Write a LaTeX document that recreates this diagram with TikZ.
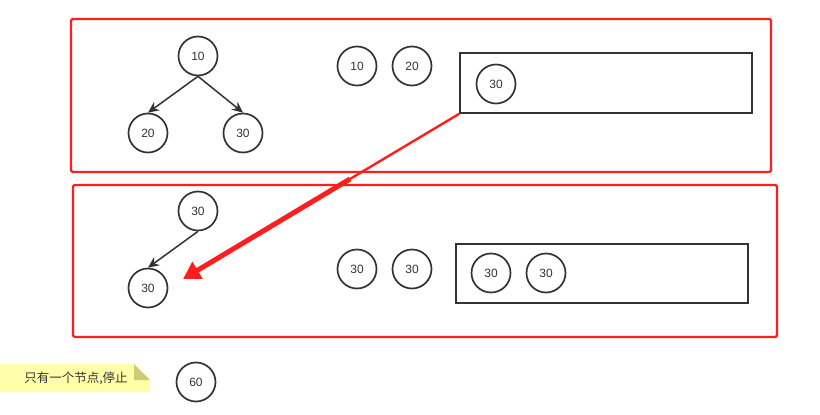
\documentclass[tikz,border=0pt]{standalone}
\usepackage{fontspec}
\setmainfont{Liberation Sans}
\newfontfamily\cjk{Noto Sans CJK SC}
\usetikzlibrary{arrows.meta}
\definecolor{frame}{RGB}{255,30,30}
\definecolor{ink}{RGB}{51,51,51}
\definecolor{notebg}{RGB}{255,255,170}
\definecolor{notefold}{RGB}{204,204,120}
\begin{document}
\begin{tikzpicture}[x=1pt,y=-1pt,
  num/.style={circle,draw=ink,line width=1.7pt,minimum size=39pt,inner sep=0pt,font=\fontsize{12}{14}\selectfont,text=ink},
  redframe/.style={draw=frame,line width=2.4pt,rounded corners=1.5pt},
  blackbox/.style={draw=ink,line width=1.7pt},
  edge/.style={draw=ink,line width=1.5pt,-{Stealth[length=11pt,width=10pt]}}]
\useasboundingbox (0,0) rectangle (820,415);
% frames
\draw[redframe] (71,19) rectangle (771,172);
\draw[redframe] (73,185) rectangle (777,337);
% top tree
\node[num] (a10) at (198,56) {10};
\node[num] (a20) at (148,133) {20};
\node[num] (a30) at (243,133) {30};
\draw[edge] (a10.south) -- (a20.north);
\draw[edge] (a10.south) -- (a30.north);
\node[num] (b10) at (357,66) {10};
\node[num] (b20) at (412,66) {20};
\node[blackbox,minimum width=292pt,minimum height=60pt,inner sep=0pt] (box1) at (606,83) {};
\node[num] (c30) at (496,84) {30};
% lower tree
\node[num] (d30) at (198,211) {30};
\node[num] (e30) at (148,288) {30};
\draw[edge] (d30.south) -- (e30.north);
\node[num] (f30) at (357,269) {30};
\node[num] (g30) at (412,269) {30};
\node[blackbox,minimum width=292pt,minimum height=59pt,inner sep=0pt] (box2) at (602,273.5) {};
\node[num] (h30) at (491,273) {30};
\node[num] (i30) at (546,273) {30};
% red arrow
\coordinate (rs) at (box1.south west);
\coordinate (rm) at (350,179);
\coordinate (rt) at (183,279);
\draw[frame,line width=2.4pt] (rs) -- (rm);
\draw[frame,line width=5pt,-{Triangle[length=17pt,width=19pt]}] (rm) -- (rt);
% note
\fill[notebg] (0,364) -- (134,364) -- (150,380) -- (150,392) -- (0,392) -- cycle;
\fill[notefold] (134,364) -- (150,380) -- (134,380) -- cycle;
\node[font=\cjk\fontsize{12.5}{14}\selectfont,text=ink] (note) at (76,378) {只有一个节点,停止};
\node[num] (n60) at (196,382) {60};
\end{tikzpicture}
\end{document}
